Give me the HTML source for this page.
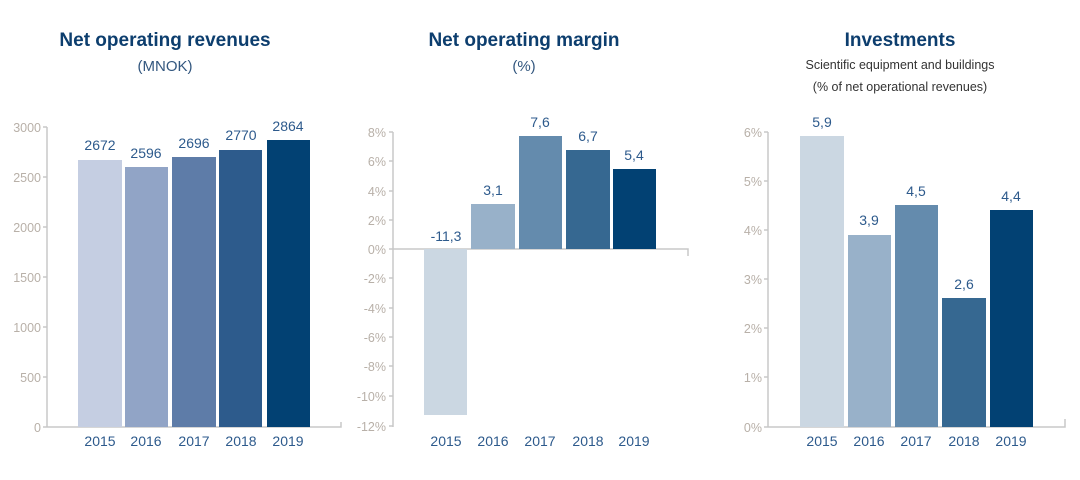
<!DOCTYPE html>
<html><head><meta charset="utf-8"><style>
html,body{margin:0;padding:0;background:#fff;}
svg{display:block;font-family:"Liberation Sans",sans-serif;}
.t{font-weight:bold;font-size:19px;fill:#0d3e6e;}
.s{font-size:15px;fill:#33577f;}
.s2{font-size:12.5px;fill:#333;}
.y{font-size:12.5px;fill:#b8b0a8;}
.x{font-size:14px;fill:#2d5a8c;}
.v{font-size:14px;fill:#2d5a8c;}
.ax{stroke:#c8c8c8;stroke-width:1.5;fill:none;}
</style></head><body>
<svg width="1080" height="480" viewBox="0 0 1080 480">
<text class="t" x="165" y="46" text-anchor="middle">Net operating revenues</text>
<text class="s" x="165" y="71" text-anchor="middle">(MNOK)</text>
<text class="t" x="524" y="46" text-anchor="middle">Net operating margin</text>
<text class="s" x="524" y="71" text-anchor="middle">(%)</text>
<text class="t" x="900" y="46" text-anchor="middle">Investments</text>
<text class="s2" x="900" y="69" text-anchor="middle">Scientific equipment and buildings</text>
<text class="s2" x="900" y="91" text-anchor="middle">(% of net operational revenues)</text>

<!-- chart 1 -->
<path class="ax" d="M47,127 V427 H341 V422 M43,127 H47 M43,177 H47 M43,227 H47 M43,277 H47 M43,327 H47 M43,377 H47 M43,427 H47"/>
<g class="y" text-anchor="end">
<text x="41" y="132">3000</text><text x="41" y="182">2500</text><text x="41" y="232">2000</text><text x="41" y="282">1500</text><text x="41" y="332">1000</text><text x="41" y="382">500</text><text x="41" y="432">0</text>
</g>
<rect x="78" y="160" width="44" height="267" fill="#c5cee2"/>
<rect x="125" y="167" width="43" height="260" fill="#91a4c6"/>
<rect x="172" y="157" width="44" height="270" fill="#5e7ca8"/>
<rect x="219" y="150" width="43" height="277" fill="#2d5b8c"/>
<rect x="267" y="140" width="43" height="287" fill="#024173"/>
<g class="v" text-anchor="middle">
<text x="100" y="150">2672</text><text x="146" y="158">2596</text><text x="194" y="148">2696</text><text x="241" y="140">2770</text><text x="288" y="131">2864</text>
</g>
<g class="x" text-anchor="middle">
<text x="100" y="446">2015</text><text x="146" y="446">2016</text><text x="194" y="446">2017</text><text x="241" y="446">2018</text><text x="288" y="446">2019</text>
</g>

<!-- chart 2 -->
<path class="ax" d="M393,132 V427 M393,249 H688 V256 M389,132 H393 M389,161 H393 M389,191 H393 M389,220 H393 M389,249 H393 M389,278 H393 M389,308 H393 M389,337 H393 M389,366 H393 M389,396 H393 M389,426 H393"/>
<g class="y" text-anchor="end">
<text x="386" y="137">8%</text><text x="386" y="166">6%</text><text x="386" y="196">4%</text><text x="386" y="225">2%</text><text x="386" y="254">0%</text><text x="386" y="283">-2%</text><text x="386" y="313">-4%</text><text x="386" y="342">-6%</text><text x="386" y="371">-8%</text><text x="386" y="401">-10%</text><text x="386" y="431">-12%</text>
</g>
<rect x="424" y="249" width="43" height="166" fill="#cbd7e2"/>
<rect x="471" y="204" width="44" height="45" fill="#98b1c9"/>
<rect x="519" y="136" width="43" height="113" fill="#648bad"/>
<rect x="566" y="150" width="44" height="99" fill="#366891"/>
<rect x="613" y="169" width="43" height="80" fill="#024173"/>
<g class="v" text-anchor="middle">
<text x="446" y="241">-11,3</text><text x="493" y="195">3,1</text><text x="540" y="127">7,6</text><text x="588" y="141">6,7</text><text x="634" y="160">5,4</text>
</g>
<g class="x" text-anchor="middle">
<text x="446" y="446">2015</text><text x="493" y="446">2016</text><text x="540" y="446">2017</text><text x="588" y="446">2018</text><text x="634" y="446">2019</text>
</g>

<!-- chart 3 -->
<path class="ax" d="M768,132 V427 H1065 V419 M764,132 H768 M764,181 H768 M764,230 H768 M764,279 H768 M764,328 H768 M764,377 H768 M764,427 H768"/>
<g class="y" text-anchor="end">
<text x="762" y="137">6%</text><text x="762" y="186">5%</text><text x="762" y="235">4%</text><text x="762" y="284">3%</text><text x="762" y="333">2%</text><text x="762" y="382">1%</text><text x="762" y="432">0%</text>
</g>
<rect x="800" y="136" width="44" height="291" fill="#cbd7e2"/>
<rect x="848" y="235" width="43" height="192" fill="#98b1c9"/>
<rect x="895" y="205" width="43" height="222" fill="#648bad"/>
<rect x="942" y="298" width="44" height="129" fill="#366891"/>
<rect x="990" y="210" width="43" height="217" fill="#024173"/>
<g class="v" text-anchor="middle">
<text x="822" y="127">5,9</text><text x="869" y="225">3,9</text><text x="916" y="196">4,5</text><text x="964" y="289">2,6</text><text x="1011" y="201">4,4</text>
</g>
<g class="x" text-anchor="middle">
<text x="822" y="446">2015</text><text x="869" y="446">2016</text><text x="916" y="446">2017</text><text x="964" y="446">2018</text><text x="1011" y="446">2019</text>
</g>
</svg>
</body></html>
